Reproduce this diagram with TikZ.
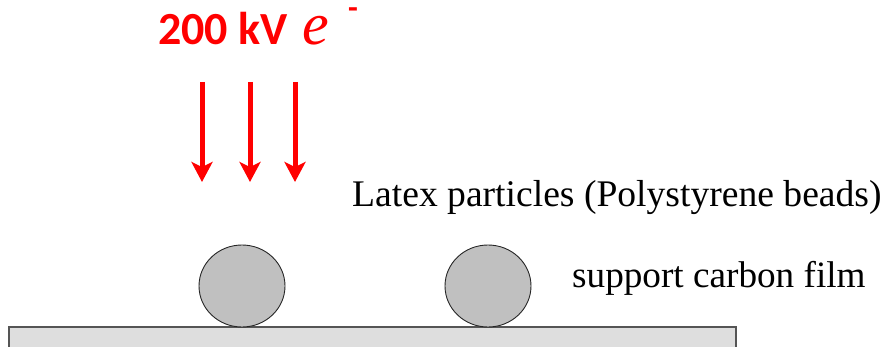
\documentclass[tikz,border=0pt]{standalone}
\usepackage{fontspec}
\setmainfont{Liberation Serif}
\newfontfamily\titlefont{Carlito}
\newfontfamily\efont{Liberation Serif}
\usetikzlibrary{arrows.meta,shapes.geometric}
\definecolor{beadgray}{HTML}{C0C0C0}
\definecolor{filmgray}{HTML}{DEDEDE}
\definecolor{filmedge}{HTML}{555555}
\begin{document}
\begin{tikzpicture}[x=1pt,y=-1pt,
  beam/.style={draw=red, line width=5pt, -{Stealth[length=20pt,width=21pt,inset=5pt]}},
  bead/.style={ellipse, draw=black!85, line width=0.9pt, fill=beadgray, minimum width=86pt, minimum height=82pt, inner sep=0pt},
  label/.style={anchor=base west, inner sep=0pt},
  titletext/.style={anchor=base west, inner sep=1pt, text=red}]
\useasboundingbox (0,0) rectangle (882,347);
\clip (0,0) rectangle (882,347);
% support film
\draw[draw=filmedge, fill=filmgray, line width=1.5pt] (9,327) rectangle (736,370);
% beads
\node[bead] (b1) at (242,286) {};
\node[bead] (b2) at (488,286) {};
% title
\node[titletext, font=\titlefont\bfseries\fontsize{46}{50}\selectfont] (title) at (157,45) {200 kV};
\node[titletext, font=\efont\itshape\fontsize{60}{62}\selectfont] (elec) at (301,45) {e};
\node[titletext, font=\titlefont\bfseries\fontsize{32}{34}\selectfont] (minus) at (347,19) {-};
% beams
\coordinate (s1) at (202,82); \coordinate (e1) at (202,182);
\coordinate (s2) at (250,82); \coordinate (e2) at (250,182);
\coordinate (s3) at (295,82); \coordinate (e3) at (295,182);
\draw[beam] (s1) -- (e1);
\draw[beam] (s2) -- (e2);
\draw[beam] (s3) -- (e3);
% labels
\node[label, font=\fontsize{37.6}{40}\selectfont] (latex) at (352,207) {Latex particles (Polystyrene beads)};
\node[label, font=\fontsize{37.2}{40}\selectfont] (film) at (572,287) {support carbon film};
\end{tikzpicture}
\end{document}
